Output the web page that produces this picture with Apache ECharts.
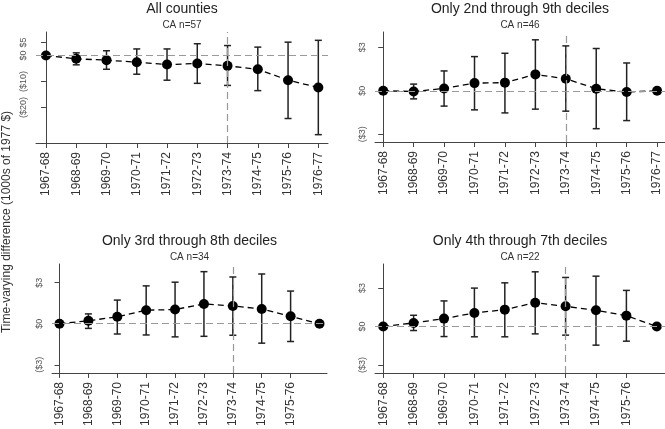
<!DOCTYPE html>
<html>
<head>
<meta charset="utf-8">
<script src="https://cdn.jsdelivr.net/npm/echarts@6/dist/echarts.min.js"></script>
<style>html,body{margin:0;padding:0;background:#fff}#c{width:665px;height:429px}</style>
</head>
<body>
<div id="c"></div>
<script>
// ---- data ----
var catsFull = ['1967-68','1968-69','1969-70','1970-71','1971-72','1972-73','1973-74','1974-75','1975-76','1976-77'];
var catsShort = ['1967-68','1968-69','1969-70','1970-71','1971-72','1972-73','1973-74','1974-75','1975-76',''];

var titles = ['All counties','Only 2nd through 9th deciles','Only 3rd through 8th deciles','Only 4th through 7th deciles'];
var subtitles = ['CA n=57','CA n=46','CA n=34','CA n=22'];

var est1 = [0,-1.3,-1.8,-2.6,-3.5,-3.1,-4.0,-5.3,-9.5,-12.3];
var lo1  = [null,-3.6,-5.3,-7.2,-9.5,-10.7,-11.5,-13.5,-24.2,-30.4];
var hi1  = [null,1.0,1.8,2.5,2.5,4.5,3.8,3.2,5.1,5.8];

var est2 = [0,-0.05,0.16,0.53,0.56,1.13,0.83,0.14,-0.09,0];
var lo2  = [null,-0.56,-1.06,-1.32,-1.53,-1.27,-1.41,-2.62,-2.06,null];
var hi2  = [null,0.46,1.37,2.36,2.59,3.52,3.10,2.92,1.92,null];

var est3 = [0,0.22,0.51,0.99,1.04,1.45,1.30,1.08,0.55,0];
var lo3  = [null,-0.34,-0.75,-0.82,-0.96,-0.92,-0.84,-1.42,-1.30,null];
var hi3  = [null,0.72,1.73,2.77,3.04,3.81,3.42,3.64,2.39,null];

var est4 = [0,0.28,0.62,1.06,1.32,1.86,1.58,1.27,0.85,0];
var lo4  = [null,-0.31,-0.78,-0.80,-0.80,-0.57,-0.67,-1.45,-1.14,null];
var hi4  = [null,0.88,2.00,3.00,3.41,4.27,3.83,3.93,2.82,null];

var yTicks1 = [5,0,-10,-20];
var yTicksOther = [3,0,-3];
var policyIndex = 6; // 1973-74 reference line

// ---- layout ----
var FONT = 'Liberation Sans, Arial, sans-serif';
var panels = [
  {grid:{left:36,top:32,width:292,height:111}, x:[-0.33,9.32], y:[-33.6,9],   cats:catsFull,  nTicks:10, est:est1, lo:lo1, hi:hi1, yt:yTicks1,     ty:9,   sy:25},
  {grid:{left:375,top:32,width:290,height:110}, x:[-0.27,9.26], y:[-3.54,4.06], cats:catsFull, nTicks:10, est:est2, lo:lo2, hi:hi2, yt:yTicksOther, ty:9,   sy:25},
  {grid:{left:52,top:264,width:275,height:110}, x:[-0.26,9.26], y:[-3.6,4.37],  cats:catsShort, nTicks:9, est:est3, lo:lo3, hi:hi3, yt:yTicksOther, ty:241, sy:257},
  {grid:{left:375,top:264,width:290,height:110}, x:[-0.27,9.27], y:[-3.62,4.88], cats:catsShort, nTicks:9, est:est4, lo:lo4, hi:hi4, yt:yTicksOther, ty:241, sy:257}
];

function money(v){ return v >= 0 ? '$' + v : '($' + (-v) + ')'; }

var grids = [], xAxes = [], yAxes = [], series = [], graphics = [];
panels.forEach(function(p, k){
  grids.push(p.grid);
  var idx = [];
  for (var i = 0; i < p.nTicks; i++) idx.push(i);
  (function(cats){
    xAxes.push({
      type:'value', gridIndex:k, min:p.x[0], max:p.x[1],
      splitLine:{show:false},
      axisLine:{show:true, onZero:false, lineStyle:{color:'#444', width:1}},
      axisTick:{show:true, length:5, lineStyle:{color:'#444'}, customValues:idx},
      axisLabel:{show:true, rotate:90, margin:9, fontSize:12, color:'#333', fontFamily:FONT,
        customValues:idx, formatter:function(v){ return cats[Math.round(v)] || ''; }}
    });
  })(p.cats);
  yAxes.push({
    type:'value', gridIndex:k, min:p.y[0], max:p.y[1],
    splitLine:{show:false},
    axisLine:{show:true, lineStyle:{color:'#444', width:1}},
    axisTick:{show:true, length:5, lineStyle:{color:'#444'}, customValues:p.yt},
    axisLabel:{show:true, rotate:90, margin:8, fontSize:9, color:'#555', fontFamily:FONT,
      customValues:p.yt, formatter:function(v){ return money(v); }}
  });

  var ebData = [];
  p.lo.forEach(function(l, i){ if (l !== null) ebData.push([i, l, p.hi[i]]); });
  series.push({
    type:'custom', xAxisIndex:k, yAxisIndex:k, z:2, silent:true,
    data: ebData,
    encode:{x:0, y:[1,2]},
    renderItem:function(params, api){
      var x = api.value(0);
      var a = api.coord([x, api.value(1)]);
      var b = api.coord([x, api.value(2)]);
      var hw = 3.5;
      var st = {stroke:'#222', lineWidth:1.5};
      return {type:'group', children:[
        {type:'line', shape:{x1:a[0], y1:a[1], x2:b[0], y2:b[1]}, style:st},
        {type:'line', shape:{x1:a[0]-hw, y1:a[1], x2:a[0]+hw, y2:a[1]}, style:st},
        {type:'line', shape:{x1:b[0]-hw, y1:b[1], x2:b[0]+hw, y2:b[1]}, style:st}
      ]};
    },
    markLine:{
      silent:true, symbol:'none', animation:false,
      label:{show:false},
      lineStyle:{color:'#999', width:1.2, type:[7,4]},
      data:[{yAxis:0}, {xAxis:policyIndex}]
    }
  });
  series.push({
    type:'line', xAxisIndex:k, yAxisIndex:k, z:3, silent:true,
    data: p.est.map(function(v, i){ return [i, v]; }),
    symbol:'circle', symbolSize:10, showSymbol:true,
    itemStyle:{color:'#000'},
    lineStyle:{color:'#000', width:1.3, type:[6,4]}
  });

  var cx = p.grid.left + p.grid.width / 2;
  graphics.push({type:'text', x:cx, y:p.ty, silent:true,
    style:{text:titles[k], fontSize:14, fontFamily:FONT, fill:'#222', textAlign:'center', textVerticalAlign:'middle'}});
  graphics.push({type:'text', x:cx, y:p.sy, silent:true,
    style:{text:subtitles[k], fontSize:10, fontFamily:FONT, fill:'#333', textAlign:'center', textVerticalAlign:'middle'}});
});

graphics.push({type:'text', x:7, y:222, rotation:Math.PI/2, silent:true,
  style:{text:'Time-varying difference (1000s of 1977 $)', fontSize:12, fontFamily:FONT, fill:'#333', textAlign:'center', textVerticalAlign:'middle'}});

var chart = echarts.init(document.getElementById('c'), null, {renderer:'canvas'});
chart.setOption({
  animation:false,
  backgroundColor:'#fff',
  grid:grids, xAxis:xAxes, yAxis:yAxes, series:series, graphic:graphics
});
</script>
</body>
</html>
